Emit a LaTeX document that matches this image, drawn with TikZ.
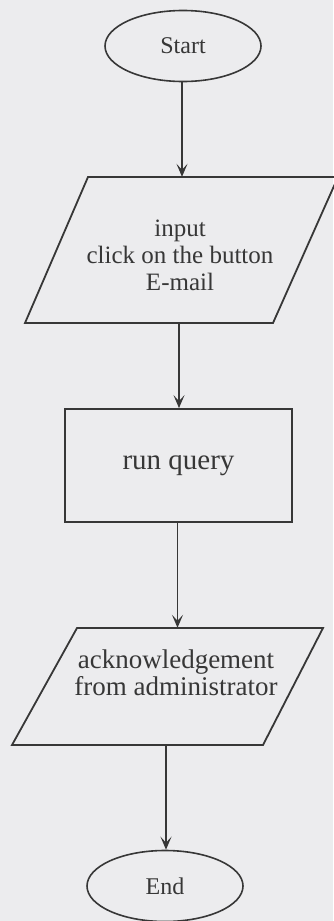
\documentclass[tikz,border=0pt]{standalone}
\usepackage{fontspec}
\setmainfont{Liberation Serif}
\usetikzlibrary{arrows.meta,shapes.geometric,calc}
\definecolor{paper}{RGB}{236,236,238}
\definecolor{ink}{RGB}{55,55,55}
\begin{document}
\begin{tikzpicture}[x=1pt,y=-1pt,
  terminal/.style={ellipse, draw=ink, line width=1.6pt, inner sep=0pt,
    minimum width=156pt, minimum height=71pt, text=ink,
    font=\fontsize{24}{26}\selectfont},
  process/.style={rectangle, draw=ink, line width=1.8pt, inner sep=0pt,
    minimum width=227pt, minimum height=113pt, text=ink,
    font=\fontsize{29}{30}\selectfont},
  iotext/.style={rectangle, inner sep=0pt, text=ink},
  ioline/.style={draw=ink, line width=1.8pt, line join=miter},
  flow/.style={draw=ink, line width=1.4pt,
    -{Stealth[length=13pt, width=11pt, inset=6pt]}}]

% page
\fill[paper] (0,0) rectangle (333,921);
\useasboundingbox (0,0) rectangle (333,921);

% start / end terminals
\node[terminal] (start) at (183,46) {\raisebox{-3pt}{Start}};
\node[terminal] (end) at (165,886) {End};

% input parallelogram (node spans the full height of the outline,
% the text block is shifted inside it)
\node[iotext, minimum height=146pt, font=\fontsize{25}{27}\selectfont]
  (in1) at (180,250)
  {\raisebox{-14pt}[0pt][0pt]{\begin{tabular}{@{}c@{}}input\\click on the button\\E-mail\end{tabular}}};
\draw[ioline] (88,177) -- (338,177) -- (273,323) -- (25,323) -- cycle;

% query box
\node[process] (query) at (178.5,465.5) {\raisebox{-2pt}{run query}};

% output parallelogram
\node[iotext, minimum height=117pt, font=\fontsize{27}{26}\selectfont]
  (out) at (176,686.5)
  {\renewcommand\arraystretch{0.93}%
   \raisebox{4pt}[0pt][0pt]{\begin{tabular}{@{}c@{}}acknowledgement\\from administrator\end{tabular}}};
\draw[ioline] (77,628) -- (323,628) -- (263,745) -- (12,745) -- cycle;

% connectors
\coordinate (a1) at (182,0);
\draw[flow] (start.south -| a1) -- (in1.north -| a1);
\coordinate (a2) at (179,0);
\draw[flow, line width=2pt] (in1.south -| a2) -- (query.north -| a2);
\coordinate (a3) at (177.5,0);
\draw[flow] (query.south -| a3) -- (out.north -| a3);
\coordinate (a4) at (166,0);
\draw[flow, line width=1.6pt] (out.south -| a4) -- (end.north -| a4);
\end{tikzpicture}
\end{document}
